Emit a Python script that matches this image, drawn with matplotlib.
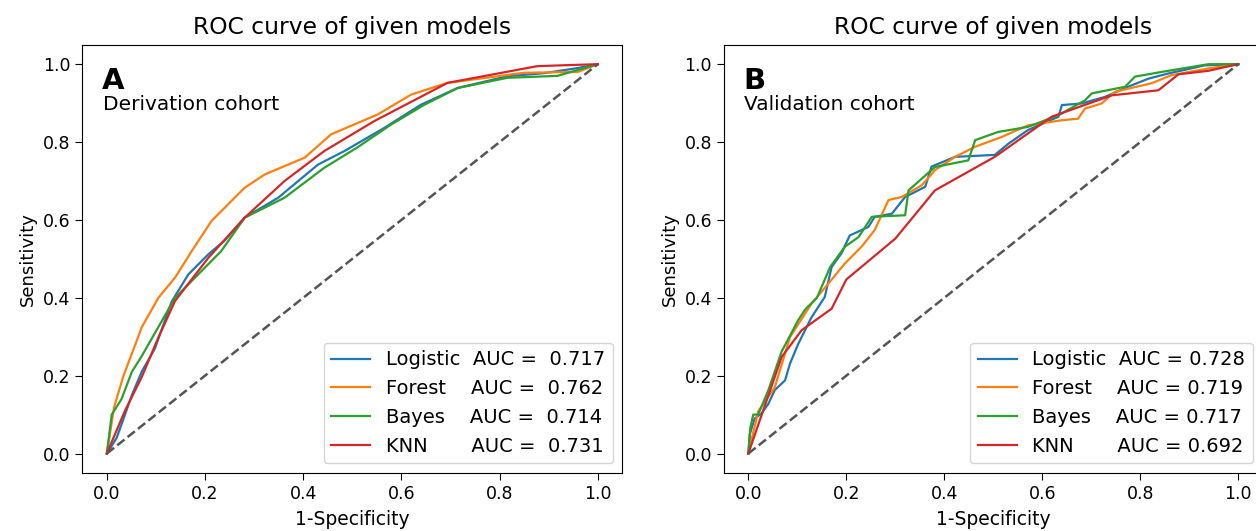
import matplotlib
matplotlib.use("Agg")
import matplotlib.pyplot as plt

# ---- panel A: derivation cohort ----
a_log_x = [0, 0.02, 0.037, 0.051, 0.071, 0.098, 0.132, 0.166, 0.207, 0.24, 0.281, 0.349, 0.43, 0.484, 0.566, 0.64, 0.715, 0.816, 0.891, 0.959, 1]
a_log_y = [0, 0.04, 0.10, 0.15, 0.21, 0.27, 0.39, 0.46, 0.512, 0.547, 0.606, 0.657, 0.742, 0.777, 0.837, 0.896, 0.939, 0.969, 0.977, 0.99, 1]
a_for_x = [0, 0.015, 0.034, 0.058, 0.071, 0.105, 0.139, 0.173, 0.213, 0.281, 0.322, 0.403, 0.457, 0.552, 0.62, 0.694, 0.85, 0.959, 1]
a_for_y = [0, 0.12, 0.2, 0.28, 0.324, 0.40, 0.452, 0.52, 0.597, 0.683, 0.717, 0.76, 0.82, 0.871, 0.922, 0.952, 0.978, 0.98, 1]
a_bay_x = [0, 0.01, 0.03, 0.051, 0.071, 0.139, 0.233, 0.281, 0.362, 0.443, 0.51, 0.579, 0.647, 0.715, 0.816, 0.918, 1]
a_bay_y = [0, 0.1, 0.14, 0.21, 0.25, 0.40, 0.52, 0.606, 0.657, 0.734, 0.786, 0.845, 0.896, 0.939, 0.965, 0.97, 1]
a_knn_x = [0, 0.037, 0.071, 0.105, 0.139, 0.207, 0.281, 0.362, 0.443, 0.545, 0.694, 0.877, 1]
a_knn_y = [0, 0.11, 0.196, 0.298, 0.392, 0.503, 0.606, 0.70, 0.777, 0.854, 0.952, 0.995, 1]
a_auc = ["0.717", "0.762", "0.714", "0.731"]

# ---- panel B: validation cohort ----
b_log_x = [0, 0.003, 0.013, 0.027, 0.041, 0.054, 0.075, 0.085, 0.102, 0.129, 0.156, 0.17, 0.19, 0.207, 0.245, 0.258, 0.293, 0.32, 0.361, 0.374, 0.422, 0.503, 0.531, 0.571, 0.633, 0.64, 0.68, 0.728, 0.775, 0.817, 0.857, 0.932, 1]
b_log_y = [0, 0.05, 0.09, 0.103, 0.128, 0.163, 0.188, 0.231, 0.282, 0.35, 0.402, 0.479, 0.514, 0.56, 0.582, 0.608, 0.616, 0.659, 0.685, 0.737, 0.762, 0.767, 0.796, 0.831, 0.865, 0.895, 0.899, 0.916, 0.942, 0.963, 0.976, 0.997, 1]
b_for_x = [0, 0.02, 0.054, 0.085, 0.129, 0.163, 0.197, 0.231, 0.258, 0.286, 0.313, 0.354, 0.381, 0.422, 0.463, 0.517, 0.571, 0.64, 0.673, 0.687, 0.721, 0.748, 0.823, 0.864, 0.939, 1]
b_for_y = [0, 0.108, 0.17, 0.299, 0.385, 0.436, 0.488, 0.531, 0.574, 0.651, 0.659, 0.689, 0.728, 0.762, 0.788, 0.813, 0.843, 0.856, 0.86, 0.886, 0.899, 0.929, 0.951, 0.972, 0.989, 1]
b_bay_x = [0, 0.004, 0.01, 0.02, 0.041, 0.068, 0.102, 0.116, 0.14, 0.167, 0.197, 0.225, 0.252, 0.32, 0.327, 0.354, 0.381, 0.449, 0.463, 0.51, 0.571, 0.633, 0.687, 0.701, 0.769, 0.789, 0.843, 0.939, 1]
b_bay_y = [0, 0.066, 0.1, 0.1, 0.163, 0.262, 0.343, 0.37, 0.4, 0.479, 0.531, 0.556, 0.608, 0.612, 0.676, 0.706, 0.736, 0.753, 0.805, 0.826, 0.839, 0.869, 0.907, 0.925, 0.942, 0.968, 0.98, 1.0, 1]
b_knn_x = [0, 0.068, 0.109, 0.17, 0.2, 0.3, 0.381, 0.503, 0.619, 0.742, 0.837, 0.878, 0.939, 1]
b_knn_y = [0, 0.248, 0.317, 0.372, 0.447, 0.552, 0.676, 0.762, 0.865, 0.92, 0.933, 0.974, 0.983, 1]
b_auc = ["0.728", "0.719", "0.717", "0.692"]

model_names = ["Logistic", "Forest", "Bayes", "KNN"]
name_pad = ["Logistic  ", "Forest    ", "Bayes    ", "KNN       "]
colors = ["#1f77b4", "#ff7f0e", "#2ca02c", "#d62728"]

fig = plt.figure(figsize=(12.56, 5.31), dpi=100)
ax_a = fig.add_axes([0.0655, 0.1092, 0.430, 0.8066])
ax_b = fig.add_axes([0.5763, 0.1092, 0.4291, 0.8066])


def draw_panel(ax, curves, aucs, letter, cohort, eq):
    for (xs, ys), pad, auc, col in zip(curves, name_pad, aucs, colors):
        ax.plot(xs, ys, color=col, lw=1.6, label=f"{pad}AUC ={eq}{auc}")
    ax.plot([0, 1], [0, 1], color="#555555", lw=1.8, linestyle="--")
    ax.set_title("ROC curve of given models", fontsize=16.8, pad=8)
    ax.set_xlabel("1-Specificity", fontsize=13.5, labelpad=5)
    ax.set_ylabel("Sensitivity", fontsize=13)
    ax.tick_params(labelsize=12.5, length=5)
    ax.set_xticks([0, 0.2, 0.4, 0.6, 0.8, 1.0])
    ax.set_yticks([0, 0.2, 0.4, 0.6, 0.8, 1.0])
    ax.text(0.036, 0.896, letter, transform=ax.transAxes, fontsize=21, fontweight="bold")
    ax.text(0.038, 0.848, cohort, transform=ax.transAxes, fontsize=14.5)
    ax.legend(loc="lower right", fontsize=14, handlelength=2.0)


draw_panel(ax_a,
           [(a_log_x, a_log_y), (a_for_x, a_for_y), (a_bay_x, a_bay_y), (a_knn_x, a_knn_y)],
           a_auc, "A", "Derivation cohort", "  ")
draw_panel(ax_b,
           [(b_log_x, b_log_y), (b_for_x, b_for_y), (b_bay_x, b_bay_y), (b_knn_x, b_knn_y)],
           b_auc, "B", "Validation cohort", " ")

fig.savefig("out.png", dpi=100)
